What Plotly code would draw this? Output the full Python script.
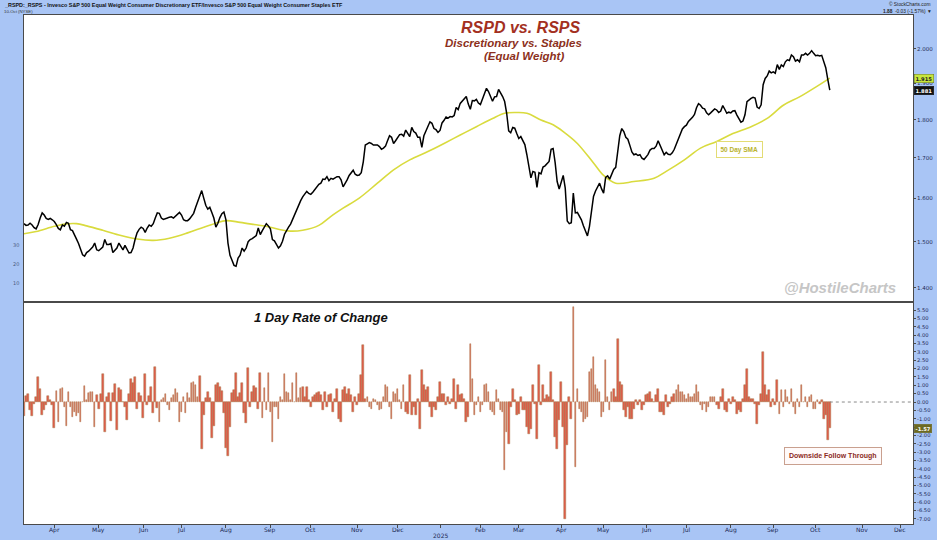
import numpy as np
import pandas as pd
import plotly.graph_objects as go

# ---------------- calendar (NYSE sessions) ----------------
HOLIDAYS = ["2024-03-29", "2024-05-27", "2024-06-19", "2024-07-04", "2024-09-02", "2024-11-28",
            "2024-12-25", "2025-01-01", "2025-01-09", "2025-01-20", "2025-02-17", "2025-04-18",
            "2025-05-26", "2025-06-19", "2025-07-04", "2025-09-01", "2025-11-27", "2025-12-25"]
SESSIONS = [d for d in pd.bdate_range("2024-03-08", "2025-12-31")
            if d.strftime("%Y-%m-%d") not in HOLIDAYS]

# ---------------- data ----------------
PRICE = [
    1.541, 1.537, 1.538, 1.542, 1.538, 1.532, 1.529, 1.539, 1.554, 1.566,
    1.561, 1.553, 1.551, 1.553, 1.550, 1.546, 1.539, 1.530, 1.527, 1.538,
    1.535, 1.544, 1.542, 1.527, 1.525, 1.517, 1.506, 1.496, 1.484, 1.471,
    1.468, 1.476, 1.479, 1.483, 1.488, 1.497, 1.482, 1.480, 1.483, 1.488,
    1.505, 1.494, 1.494, 1.496, 1.476, 1.481, 1.486, 1.497, 1.490, 1.482,
    1.492, 1.482, 1.475, 1.476, 1.486, 1.505, 1.520, 1.528, 1.533, 1.530,
    1.521, 1.531, 1.538, 1.535, 1.541, 1.554, 1.566, 1.565, 1.554, 1.551,
    1.552, 1.554, 1.556, 1.557, 1.554, 1.558, 1.562, 1.567, 1.561, 1.550,
    1.548, 1.548, 1.552, 1.558, 1.565, 1.579, 1.592, 1.602, 1.619, 1.601,
    1.584, 1.575, 1.579, 1.567, 1.554, 1.533, 1.542, 1.555, 1.564, 1.568,
    1.550, 1.497, 1.470, 1.459, 1.448, 1.446, 1.464, 1.470, 1.486, 1.479,
    1.486, 1.500, 1.505, 1.507, 1.510, 1.514, 1.531, 1.516, 1.525, 1.533,
    1.541, 1.536, 1.529, 1.505, 1.502, 1.494, 1.486, 1.491, 1.501, 1.517,
    1.526, 1.533, 1.540, 1.551, 1.564, 1.575, 1.585, 1.595, 1.604, 1.611,
    1.617, 1.612, 1.610, 1.615, 1.622, 1.629, 1.634, 1.637, 1.647, 1.646,
    1.653, 1.643, 1.649, 1.647, 1.650, 1.653, 1.653, 1.645, 1.628, 1.635,
    1.645, 1.656, 1.663, 1.669, 1.659, 1.656, 1.657, 1.663, 1.690, 1.733,
    1.736, 1.739, 1.737, 1.733, 1.733, 1.733, 1.729, 1.722, 1.725, 1.730,
    1.744, 1.757, 1.753, 1.737, 1.744, 1.751, 1.760, 1.761, 1.756, 1.772,
    1.765, 1.755, 1.779, 1.768, 1.764, 1.753, 1.753, 1.727, 1.757, 1.770,
    1.780, 1.794, 1.790, 1.776, 1.773, 1.766, 1.771, 1.791, 1.798, 1.807,
    1.804, 1.808, 1.807, 1.811, 1.833, 1.827, 1.844, 1.851, 1.859, 1.863,
    1.842, 1.828, 1.852, 1.851, 1.855, 1.845, 1.841, 1.857, 1.876, 1.886,
    1.877, 1.865, 1.850, 1.862, 1.863, 1.883, 1.874, 1.863, 1.849, 1.817,
    1.770, 1.765, 1.779, 1.777, 1.763, 1.750, 1.755, 1.742, 1.734, 1.708,
    1.677, 1.650, 1.666, 1.664, 1.627, 1.663, 1.660, 1.677, 1.680, 1.685,
    1.691, 1.722, 1.724, 1.688, 1.641, 1.623, 1.637, 1.656, 1.625, 1.547,
    1.541, 1.543, 1.613, 1.566, 1.567, 1.558, 1.550, 1.536, 1.526, 1.513,
    1.535, 1.565, 1.605, 1.618, 1.629, 1.637, 1.623, 1.613, 1.651, 1.655,
    1.647, 1.657, 1.671, 1.676, 1.710, 1.757, 1.776, 1.768, 1.753, 1.748,
    1.732, 1.715, 1.708, 1.710, 1.706, 1.708, 1.699, 1.696, 1.702, 1.709,
    1.720, 1.724, 1.724, 1.730, 1.744, 1.733, 1.722, 1.708, 1.714, 1.709,
    1.708, 1.713, 1.722, 1.735, 1.753, 1.764, 1.775, 1.781, 1.785, 1.795,
    1.800, 1.806, 1.814, 1.832, 1.843, 1.839, 1.831, 1.829, 1.818, 1.813,
    1.818, 1.824, 1.829, 1.826, 1.819, 1.823, 1.838, 1.828, 1.817, 1.820,
    1.818, 1.823, 1.824, 1.812, 1.803, 1.793, 1.796, 1.813, 1.849, 1.854,
    1.858, 1.861, 1.859, 1.834, 1.830, 1.840, 1.896, 1.914, 1.921, 1.935,
    1.930, 1.933, 1.929, 1.954, 1.940, 1.953, 1.948, 1.962, 1.968, 1.966,
    1.982, 1.977, 1.964, 1.968, 1.962, 1.982, 1.982, 1.987, 1.982, 1.987,
    1.995, 1.987, 1.980, 1.981, 1.979, 1.981, 1.961, 1.945, 1.911, 1.881,
]

ROC = [
    -0.84, 0.38, 0.48, -0.48, -0.84, -0.12, 0.32, 1.52, 0.76, -0.78,
    -0.48, -0.18, 0.36, 0.12, -0.18, -1.54, 0.66, -1.18, 0.76, 0.82,
    -0.28, -1.44, 0.62, -0.32, -0.92, -0.58, -0.84, -0.68, -1.18, 0.02,
    0.96, 0.12, 0.52, 0.58, 0.62, -1.48, 0.42, -0.44, 0.48, 1.66,
    -1.78, 0.32, 0.52, -1.12, 0.52, 1.06, -1.68, 0.82, 0.72, 0.02,
    -0.28, -1.08, 0.48, 1.36, 1.12, 1.52, -0.44, 0.52, 0.36, -0.98,
    1.66, -0.18, 0.36, 0.92, -0.64, 2.12, -0.38, -1.18, 0.12, 0.22,
    0.46, -0.18, -0.48, 0.22, 0.42, 0.76, 0.52, -1.18, -0.58, 0.32,
    -0.68, 0.52, 0.22, 1.12, 1.18, 1.02, 0.32, 1.56, -2.81, -0.78,
    0.22, 0.58, 0.22, -2.18, -1.44, 1.02, 1.12, 0.92, 0.66, -0.68,
    -2.77, -3.21, -1.48, 0.52, 0.72, 1.72, 0.32, 0.52, 1.12, -0.68,
    -1.24, 2.02, -0.28, 0.62, 0.96, 0.86, -0.44, 1.76, -0.94, 0.82,
    -0.48, 1.72, -0.58, -2.38, -0.32, -0.28, -1.04, 0.32, 0.12, 1.68,
    0.62, 0.56, 0.12, 1.12, 0.02, 1.72, 0.22, 0.82, 0.92, 0.32,
    0.92, 0.12, -0.32, 0.32, 0.42, 0.52, 0.62, 0.42,
    -0.5, 0.6, -0.3, 0.4, 0.5, -0.6, 0.2, 0.8, -1.0, -1.2, 0.7, 0.9, 0.5,
    0.8, 0.4, -0.6, 0.3, -0.2, 0.5, 1.6, 3.4, 0.2, 0.3, -0.3, -0.4, 0.2, 0.1, -0.2,
    -0.5, -0.4, 0.3, 1.0, 0.9, -0.3, -1.0, 0.6, 0.5, 0.8, 0.1, -0.4, 1.0, -0.6, -0.7,
    1.6, -0.8, -0.3, -0.8, 0.2, -1.6, 1.9, 1.0, 0.7, 0.9, -0.3, -0.9, -0.3, -0.5, 0.3,
    1.2, 0.5, 0.5, -0.2, 0.3, -0.1, 0.2, 1.4, -0.4, 1.0, 0.4, 0.5, 0.2, -1.2, -0.9,
    3.5, 1.4, -0.8, -0.2, 0.3, -0.6, -0.2, 1.0, 1.1, 0.6, -0.5, -0.6, -0.8, 0.7, 0.2,
    -0.5, -0.6, -4.1, -1.8, -2.5, -0.3, 0.8, 0.1, -0.8, -0.7, 0.3, -0.5, -0.5, -1.5, -1.9,
    -1.6, 1.0, -0.1, -2.2, 2.2, -0.2, 1.0, 0.2, 0.4, 0.3, 1.8, 0.1, -2.1, -2.8, -1.1,
    1.2, -1.5, -7.0, -2.6, 0.3, -1.0, 5.7, -3.9, 0.8, -0.4, -0.6, -1.2, -1.0, -0.9, 1.8,
    2.0, 2.7, 1.0, 0.8, 0.6, -0.9, -0.6, 2.5, 0.3, -0.5, 0.6, 0.8, 0.3, 3.8, 1.2,
    1.0, -0.5, -0.9, -0.3, -1.0, -1.0, -0.4, 0.1, -0.2, 0.1, -0.5, -0.2, 0.4, 0.5, 0.6,
    0.2, 0.0, 0.4, 0.8, -0.6, -0.6, -0.8, 0.4, -0.3, -0.1, 0.3, 0.5, 0.7, 1.0, 0.6,
    0.6, 0.4, 0.2, 0.5, 0.3, 0.3, 0.5, 1.0, 0.6, -0.2, -0.5, -0.1, -0.6, -0.3, 0.3,
    0.3, 0.3, -0.2, -0.4, 0.3, 0.8, -0.5, -0.6, 0.2, -0.1, 0.3, 0.1, -0.7, -0.5, -0.6,
    0.2, 1.0, 2.0, 0.3, 0.2, 0.2, -0.1, -1.3, -0.2, 0.5, 3.0, 1.0, 0.4, 0.7, -0.3,
    0.2, -0.2, 1.3, -0.7, 0.7, -0.3, 0.7, 0.3, -0.1, 0.8, -0.3, -0.7, 0.2, -0.3, 1.0,
    0.0, 0.3, -0.3, 0.3, 0.4, -0.4, -0.4, 0.1, -0.1, 0.1, -1.0, -0.8, -2.3, -1.57,
]

# 50-day SMA read at selected sessions (session number, value)
SMA_SESSION = [0, 6, 15, 20, 26, 31, 39, 48, 56, 64, 72, 81, 89, 95, 100, 107, 114, 122, 127,
               132, 138, 146, 152, 158, 166, 175, 183, 191, 200, 208, 216, 224, 232, 238, 244,
               249, 256, 262, 267, 274, 282, 287, 293, 302, 312, 318, 327, 335, 343, 351, 360,
               368, 376, 384, 393, 399]
SMA_VALUE = [1.518, 1.523, 1.535, 1.540, 1.541, 1.536, 1.526, 1.514, 1.506, 1.503, 1.508,
             1.520, 1.533, 1.542, 1.548, 1.544, 1.539, 1.533, 1.527, 1.524, 1.526, 1.537,
             1.558, 1.577, 1.601, 1.637, 1.670, 1.695, 1.716, 1.737, 1.759, 1.781, 1.803,
             1.817, 1.819, 1.817, 1.799, 1.786, 1.768, 1.737, 1.687, 1.656, 1.637, 1.641,
             1.649, 1.666, 1.695, 1.725, 1.742, 1.763, 1.781, 1.803, 1.839, 1.862, 1.893,
             1.915]

PRICE_TICKS = [1.4, 1.5, 1.6, 1.7, 1.8, 1.9, 2.0]
ROC_TICKS = [v / 2 for v in range(-14, 12)]

assert len(PRICE) == len(ROC) == 400

# ---------------- geometry helpers ----------------
W, H = 937, 540
ML, MR, MT, MB = 24, 24, 15, 16
PW, PH = W - ML - MR, H - MT - MB
SPLIT = (H - MB - 302) / PH


def px(x):
    return (x - ML) / PW


def py(y):
    return (H - MB - y) / PH


n = len(PRICE)
sess = list(range(n))
X_END = 440.2

# month ticks from the session calendar
month_first = {}
for i, d in enumerate(SESSIONS):
    key = (d.year, d.month)
    if key not in month_first:
        month_first[key] = i
tickvals, ticklabels = [], []
for (yy, mm), i in month_first.items():
    if i <= 0 or i > X_END:
        continue
    tickvals.append(i)
    ticklabels.append((yy, mm))

BLUE = "#a9c5f5"
AXIS_TXT = "#1d2a55"
FONT = "Liberation Sans"

fig = go.Figure()
fig.add_trace(go.Scatter(x=SMA_SESSION, y=SMA_VALUE, mode="lines",
                         line=dict(color="#d9db3e", width=1.6, shape="spline", smoothing=1.0),
                         xaxis="x", yaxis="y", hoverinfo="skip"))
fig.add_trace(go.Scatter(x=sess, y=PRICE, mode="lines", line=dict(color="#000000", width=1.5),
                         xaxis="x", yaxis="y"))
fig.add_trace(go.Bar(x=sess, y=ROC, width=0.8,
                     marker=dict(color="#e25a48", line=dict(color="#a77b4d", width=0.5)),
                     xaxis="x2", yaxis="y2"))

common_x = dict(range=[0, X_END], showgrid=False, zeroline=False, showline=True, mirror=True,
                linecolor="#4a4a4a", linewidth=1, automargin=False)
fig.update_layout(
    width=W, height=H, margin=dict(l=ML, r=MR, t=MT, b=MB, pad=0, autoexpand=False),
    paper_bgcolor=BLUE, plot_bgcolor="#ffffff", showlegend=False, bargap=0,
    font=dict(family=FONT, color=AXIS_TXT),
    xaxis=dict(domain=[0, 1], anchor="y", showticklabels=False, ticks="", **common_x),
    yaxis=dict(domain=[SPLIT, 1], type="log", side="right", automargin=False,
               range=[np.log10(1.371), np.log10(2.104)],
               tickvals=PRICE_TICKS, ticktext=["%.3f" % v for v in PRICE_TICKS],
               tickfont=dict(size=5.5, color=AXIS_TXT, family="DejaVu Sans"),
               ticks="outside", ticklen=2, tickcolor="#4a4a4a",
               showgrid=False, zeroline=False, showline=True, mirror=True,
               linecolor="#4a4a4a", linewidth=1),
    xaxis2=dict(domain=[0, 1], anchor="y2", matches="x", tickvals=tickvals,
                showticklabels=False, ticks="outside", ticklen=3, tickcolor="#4a4a4a",
                **common_x),
    yaxis2=dict(domain=[0, SPLIT], side="right", range=[-7.305, 5.99], automargin=False,
                tickvals=ROC_TICKS, ticktext=["%.2f" % v for v in ROC_TICKS],
                tickfont=dict(size=5.2, color=AXIS_TXT, family="DejaVu Sans"),
                ticks="outside", ticklen=2, tickcolor="#4a4a4a",
                showgrid=False, zeroline=False, showline=True, mirror=True,
                linecolor="#4a4a4a", linewidth=1),
)

# zero reference line beyond the last bar
fig.add_shape(type="line", xref="x2", yref="y2", x0=n - 1, x1=X_END, y0=0, y1=0,
              line=dict(color="#8a8a8a", width=1, dash="dot"))

ann = []


def A(text, x, y, size, color, xanchor="center", **kw):
    d = dict(text=text, x=px(x), y=py(y), xref="paper", yref="paper", showarrow=False,
             xanchor=xanchor, yanchor="middle",
             font=dict(size=size, color=color, family=kw.pop("family", FONT)))
    d.update(kw)
    ann.append(d)


# month labels under the lower panel (positioned on the data axis)
for tv, (yy, mm) in zip(tickvals, ticklabels):
    if mm == 1:
        txt, yy_px = str(yy), 535.5
    else:
        txt, yy_px = pd.Timestamp(yy, mm, 1).strftime("%b"), 529.5
    ann.append(dict(text=txt, x=tv, xref="x2", y=py(yy_px), yref="paper", showarrow=False,
                    xanchor="center", yanchor="middle",
                    font=dict(size=6, color=AXIS_TXT, family="DejaVu Sans")))

# header
A("<b>_RSPD:_RSPS - Invesco S&P 500 Equal Weight Consumer Discretionary ETF/Invesco S&P 500 Equal Weight Consumer Staples ETF</b>",
  2, 5, 5.4, "#111111", xanchor="left")
A("10-Oct (NYSE)", 2, 11.5, 4.3, "#333333", xanchor="left")
A("© StockCharts.com", 932, 4, 4.8, "#222222", xanchor="right")
A("<b>1.88</b>  -0.03 (-1.57%) ▼", 934, 11, 4.8, "#222222", xanchor="right")

# titles
A("<b><i>RSPD vs. RSPS</i></b>", 520, 27, 16, "#a3301f")
A("<b><i>Discretionary vs. Staples</i></b>", 513, 43, 11.5, "#8c3020")
A("<b><i>(Equal Weight)</i></b>", 524, 56, 11.5, "#8c3020")
A("<b><i>1 Day Rate of Change</i></b>", 321, 317, 13, "#111111")
A("<b><i>@HostileCharts</i></b>", 840, 287, 15, "#c6c6c6")

# annotation boxes
A("<b>50 Day SMA</b>", 739.5, 149.5, 6.5, "#b9b22c", bordercolor="#e3dc74", borderwidth=1,
  borderpad=3.5, bgcolor="#ffffff")
A("<b>Downside Follow Through</b>", 832.5, 456, 7, "#8c2a1c", bordercolor="#c9a08f",
  borderwidth=1, borderpad=4, bgcolor="#fffafa")

# left ghost scale
for lab, yy in (("30", 245), ("20", 264), ("10", 283)):
    A(lab, 21, yy, 5, "#4a5a80", xanchor="right", family="DejaVu Sans")

fig.update_layout(annotations=ann)

# last-value tags on the right axes
fig.add_annotation(text="<b>%.3f</b>" % SMA_VALUE[-1], xref="paper", x=1.0015, xanchor="left",
                   yref="y", y=np.log10(SMA_VALUE[-1]), showarrow=False,
                   font=dict(size=5.2, color="#222222", family="DejaVu Sans"),
                   bgcolor="#c8e63c", bordercolor="#6a7a10", borderwidth=0.5, borderpad=1)
fig.add_annotation(text="<b>%.3f</b>" % PRICE[-1], xref="paper", x=1.0015, xanchor="left",
                   yref="y", y=np.log10(PRICE[-1]), showarrow=False,
                   font=dict(size=5.2, color="#ffffff", family="DejaVu Sans"),
                   bgcolor="#111111", bordercolor="#111111", borderwidth=0.5, borderpad=1)
fig.add_annotation(text="<b>%.2f</b>" % ROC[-1], xref="paper", x=1.0015, xanchor="left",
                   yref="y2", y=ROC[-1], showarrow=False,
                   font=dict(size=5.2, color="#ffffff", family="DejaVu Sans"),
                   bgcolor="#6d6a22", bordercolor="#6d6a22", borderwidth=0.5, borderpad=1)

fig.write_html("out.html", config={"displayModeBar": False},
               post_script="document.body.style.margin='0px';document.body.style.overflow='hidden';")
